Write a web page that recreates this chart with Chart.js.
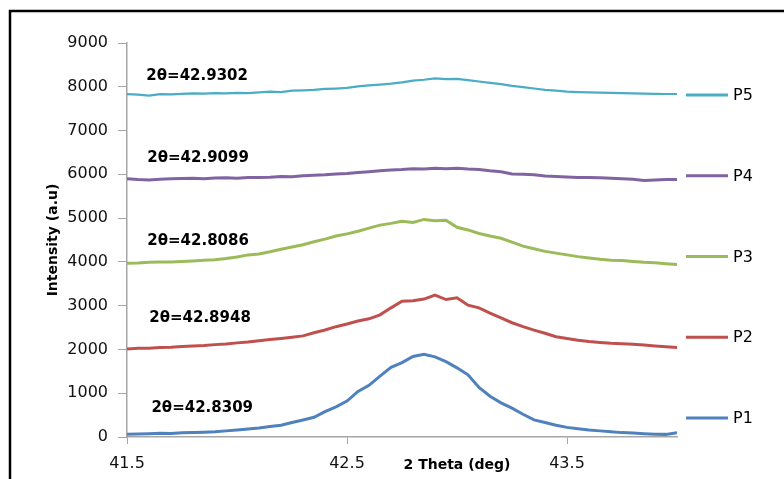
<!DOCTYPE html>
<html>
<head>
<meta charset="utf-8">
<script src="https://cdn.jsdelivr.net/npm/chart.js@4/dist/chart.umd.min.js"></script>
<style>
  html, body { margin: 0; padding: 0; background: #fff; }
  #wrap { width: 784px; height: 479px; }
</style>
</head>
<body>
<div id="wrap"><canvas id="xrdChart" width="784" height="479"></canvas></div>
<script>
// 2 theta (deg)
const twoTheta = [
  41.50, 41.55, 41.60, 41.65, 41.70, 41.75, 41.80, 41.85, 41.90, 41.95,
  42.00, 42.05, 42.10, 42.15, 42.20, 42.25, 42.30, 42.35, 42.40, 42.45,
  42.50, 42.55, 42.60, 42.65, 42.70, 42.75, 42.80, 42.85, 42.90, 42.95,
  43.00, 43.05, 43.10, 43.15, 43.20, 43.25, 43.30, 43.35, 43.40, 43.45,
  43.50, 43.55, 43.60, 43.65, 43.70, 43.75, 43.80, 43.85, 43.90, 43.95,
  44.00
];

const p1 = [
  60, 70, 75, 85, 80, 95, 100, 110, 120, 140,
  160, 180, 205, 240, 270, 330, 390, 450, 580, 690,
  820, 1040, 1180, 1390, 1590, 1700, 1840, 1890, 1830, 1720,
  1580, 1420, 1130, 930, 780, 660, 520, 390, 330, 270,
  220, 190, 160, 140, 120, 100, 90, 75, 65, 60,
  95
];
const p2 = [
  2010, 2025, 2030, 2045, 2050, 2070, 2080, 2090, 2110, 2125,
  2150, 2170, 2200, 2225, 2250, 2280, 2310, 2380, 2445, 2520,
  2580, 2650, 2700, 2790, 2950, 3100, 3110, 3150, 3240, 3140,
  3180, 3010, 2950, 2830, 2720, 2610, 2520, 2440, 2370, 2290,
  2250, 2210, 2180, 2160, 2140, 2130, 2120, 2100, 2080, 2060,
  2045
];
const p3 = [
  3970, 3975, 3990, 3995, 4000, 4010, 4020, 4035, 4050, 4075,
  4110, 4160, 4180, 4230, 4290, 4340, 4390, 4460, 4520, 4590,
  4640, 4700, 4770, 4840, 4880, 4930, 4900, 4970, 4940, 4950,
  4790, 4730, 4650, 4590, 4540, 4450, 4360, 4300, 4240, 4200,
  4160, 4120, 4090, 4060, 4040, 4030, 4010, 3990, 3980, 3960,
  3940
];
const p4 = [
  5900, 5880, 5870, 5890, 5900, 5905, 5910, 5900, 5915, 5920,
  5910, 5925, 5930, 5935, 5950, 5945, 5965, 5980, 5990, 6010,
  6020, 6040, 6060, 6080, 6100, 6110, 6130, 6120, 6140, 6130,
  6140, 6120, 6110, 6080, 6060, 6010, 6000, 5990, 5960, 5950,
  5940, 5930, 5930, 5920, 5910, 5900, 5890, 5860, 5870, 5880,
  5880
];
const p5 = [
  7830, 7820, 7800, 7830, 7825, 7840, 7850, 7845, 7855, 7850,
  7860, 7855, 7870, 7890, 7880, 7910, 7920, 7930, 7950, 7960,
  7975, 8010, 8030, 8050, 8070, 8100, 8140, 8160, 8190, 8175,
  8180, 8150, 8120, 8090, 8060, 8020, 7990, 7960, 7930, 7910,
  7890, 7880, 7870, 7865, 7860, 7855, 7850, 7845, 7840, 7835,
  7835
];

const seriesNames = ['P1', 'P2', 'P3', 'P4', 'P5'];
const peakAngles = ['42.8309', '42.8948', '42.8086', '42.9099', '42.9302'];
const xTicks = [41.5, 42.5, 43.5];

// where the peak labels sit, in axis units
const labelPos = [
  { x: 41.842, y: 662 },
  { x: 41.832, y: 2718 },
  { x: 41.823, y: 4477 },
  { x: 41.823, y: 6373 },
  { x: 41.819, y: 8246 }
];

const colors = ['#4F81BD', '#C0504D', '#9BBB59', '#8064A2', '#4BACC6'];
const widths = [3, 3, 3, 3, 2.2];
const allSeries = [p1, p2, p3, p4, p5];

const datasets = allSeries.map((vals, i) => ({
  label: seriesNames[i],
  data: vals.map((v, j) => ({ x: twoTheta[j], y: v })),
  borderColor: colors[i],
  borderWidth: widths[i],
  pointRadius: 0,
  tension: 0,
  fill: false
}));

const frame = {
  id: 'frame',
  beforeDraw(chart) {
    const ctx = chart.ctx;
    ctx.save();
    ctx.strokeStyle = '#000';
    ctx.lineWidth = 2.5;
    ctx.beginPath();
    ctx.moveTo(10, 479);
    ctx.lineTo(10, 11);
    ctx.lineTo(784, 11);
    ctx.stroke();
    ctx.restore();
  }
};

const extras = {
  id: 'extras',
  afterDraw(chart) {
    const ctx = chart.ctx;
    const xs = chart.scales.x, ys = chart.scales.y;
    ctx.save();
    // peak labels
    ctx.fillStyle = '#000';
    ctx.font = 'bold 15px "DejaVu Sans"';
    ctx.textAlign = 'center';
    ctx.textBaseline = 'middle';
    labelPos.forEach((p, i) => {
      ctx.fillText('2\u03B8=' + peakAngles[i], xs.getPixelForValue(p.x), ys.getPixelForValue(p.y));
    });
    // x axis title, on the tick label line
    ctx.font = 'bold 14px "DejaVu Sans"';
    ctx.fillText('2 Theta (deg)', xs.getPixelForValue(43.0), 465);
    // legend, P5 on top
    const ds = chart.data.datasets;
    ctx.textAlign = 'left';
    ctx.font = '16px "DejaVu Sans"';
    for (let k = 0; k < ds.length; k++) {
      const d = ds[ds.length - 1 - k];
      const y = 95 + k * 80.75;
      ctx.strokeStyle = d.borderColor;
      ctx.lineWidth = 3;
      ctx.beginPath();
      ctx.moveTo(686, y);
      ctx.lineTo(728, y);
      ctx.stroke();
      ctx.fillStyle = '#000';
      ctx.fillText(d.label, 733, y + 1);
    }
    ctx.restore();
  }
};

new Chart(document.getElementById('xrdChart').getContext('2d'), {
  type: 'line',
  data: { datasets },
  options: {
    responsive: false,
    animation: false,
    devicePixelRatio: 1,
    layout: { padding: { top: 43, right: 107, bottom: 0, left: 0 } },
    plugins: {
      legend: { display: false },
      tooltip: { enabled: false }
    },
    scales: {
      x: {
        type: 'linear',
        min: 41.5,
        max: 44,
        afterBuildTicks: (s) => { s.ticks = xTicks.map(v => ({ value: v })); },
        afterFit: (s) => { s.height = 42; },
        grid: { drawOnChartArea: false, tickLength: 7, color: '#a6a6a6' },
        border: { color: '#a6a6a6', width: 1.5 },
        ticks: {
          color: '#111',
          padding: 10,
          maxRotation: 0,
          font: { family: '"DejaVu Sans"', size: 16 },
          callback: (v) => v.toFixed(1)
        }
      },
      y: {
        min: 0,
        max: 9000,
        afterFit: (s) => { s.width = 127; },
        grid: { drawOnChartArea: false, tickLength: 9, color: '#a6a6a6' },
        border: { color: '#a6a6a6', width: 1.5 },
        ticks: {
          stepSize: 1000,
          color: '#111',
          padding: 10,
          font: { family: '"DejaVu Sans"', size: 16 },
          callback: (v) => String(v)
        },
        title: {
          display: true,
          text: 'Intensity (a.u)',
          color: '#000',
          padding: { top: 45, bottom: 0 },
          font: { family: '"DejaVu Sans"', size: 14, weight: 'bold' }
        }
      }
    }
  },
  plugins: [frame, extras]
});
</script>
</body>
</html>
